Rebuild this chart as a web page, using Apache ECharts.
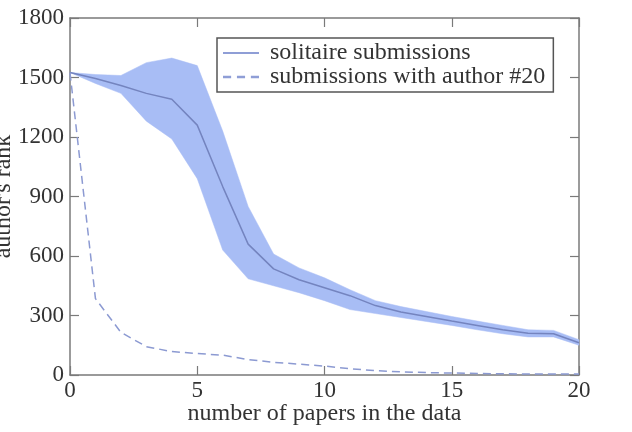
<!DOCTYPE html>
<html>
<head>
<meta charset="utf-8">
<script src="https://cdn.jsdelivr.net/npm/echarts@6/dist/echarts.min.js"></script>
<style>html,body{margin:0;padding:0;background:#fff}#c{width:632px;height:432px}</style>
</head>
<body>
<div id="c"></div>
<script>
var papers = [0,1,2,3,4,5,6,7,8,9,10,11,12,13,14,15,16,17,18,19,20];
var soloMean  = [1525,1495,1460,1420,1390,1260,950,660,535,480,440,400,350,318,295,272,250,228,210,208,163];
var soloUpper = [1525,1515,1510,1575,1598,1560,1230,850,610,540,490,430,375,345,320,295,272,250,228,225,178];
var soloLower = [1525,1470,1420,1280,1190,990,630,485,450,415,375,330,310,290,270,250,228,208,192,192,150];
var withAuthor20 = [1525,385,215,143,118,108,100,78,64,55,45,32,22,16,12,10,8,6,5,5,5];
var xTicks = [0,5,10,15,20];
var yTicks = [0,300,600,900,1200,1500,1800];

var FONT = '"Liberation Serif", "Times New Roman", serif';
var AX = '#7a7a7a';
var TXT = '#333';
function pairs(v){ return papers.map(function(x,i){ return [x, v[i]]; }); }
var bandData = papers.map(function(x,i){ return [x, soloLower[i], soloUpper[i]]; });

var chart = echarts.init(document.getElementById('c'), null, {renderer:'canvas'});
var axisCommon = {
  axisLine:{show:true, onZero:false, lineStyle:{color:AX, width:1.5}},
  axisTick:{show:true, inside:true, length:9, lineStyle:{color:AX, width:1.2}},
  splitLine:{show:false}
};
chart.setOption({
  animation:false,
  grid:{left:70, right:53, top:18, bottom:57, containLabel:false, outerBoundsMode:'none'},
  xAxis:[
    Object.assign({type:'value', min:0, max:20, interval:5, position:'bottom',
      name:'number of papers in the data', nameLocation:'middle', nameGap:27, nameMoveOverlap:false,
      nameTextStyle:{fontFamily:FONT, fontSize:24, color:TXT},
      axisLabel:{fontFamily:FONT, fontSize:23, color:TXT, margin:4,
        formatter:function(v){ return xTicks.indexOf(v)>=0 ? String(v) : ''; }}}, axisCommon),
    Object.assign({type:'value', min:0, max:20, interval:5, position:'top', axisLabel:{show:false}}, axisCommon)
  ],
  yAxis:[
    Object.assign({type:'value', min:0, max:1800, interval:300, position:'left',
      name:"author's rank", nameLocation:'middle', nameGap:54, nameRotate:90, nameMoveOverlap:false,
      nameTextStyle:{fontFamily:FONT, fontSize:24, color:TXT},
      axisLabel:{fontFamily:FONT, fontSize:23, color:TXT, margin:6,
        formatter:function(v){ return yTicks.indexOf(v)>=0 ? String(v) : ''; }}}, axisCommon),
    Object.assign({type:'value', min:0, max:1800, interval:300, position:'right', axisLabel:{show:false}}, axisCommon)
  ],
  legend:{
    left:217, top:38, orient:'vertical', itemGap:0, itemWidth:36, itemHeight:3,
    padding:[3,8,3,6], borderColor:'#555', borderWidth:1.5, backgroundColor:'#fff',
    data:[
      {name:'solitaire submissions', icon:'path://M0,0h36v2h-36z', itemStyle:{color:'#8f9ed6'}},
      {name:'submissions with author #20', icon:'path://M0,0h7v2h-7z M12,0h7v2h-7z M24,0h7v2h-7z', itemStyle:{color:'#8f9ed6'}}
    ],
    textStyle:{fontFamily:FONT, fontSize:24, color:TXT, lineHeight:22, padding:[0,0,0,6]}
  },
  series:[
    {name:'band', type:'custom', data:bandData, silent:true, z:1,
      renderItem:function(params, api){
        if (params.dataIndex !== 0) return null;
        var up = [], lo = [];
        for (var i=0;i<bandData.length;i++){
          up.push(api.coord([bandData[i][0], bandData[i][2]]));
          lo.unshift(api.coord([bandData[i][0], bandData[i][1]]));
        }
        return {type:'polygon', shape:{points:up.concat(lo)}, style:{fill:'#a8bdf5', stroke:'#a8bdf5', lineWidth:0.5}};
      },
      encode:{x:0, y:[1,2]}
    },
    {name:'solitaire submissions', type:'line', data:pairs(soloMean), symbol:'none',
      lineStyle:{color:'#7484bf', width:1.5}, itemStyle:{color:'#7484bf'}, z:3},
    {name:'submissions with author #20', type:'line', data:pairs(withAuthor20), symbol:'none',
      lineStyle:{color:'#8c9ad2', width:1.5, type:[8,5]}, itemStyle:{color:'#8c9ad2'}, z:3}
  ]
});
</script>
</body>
</html>
